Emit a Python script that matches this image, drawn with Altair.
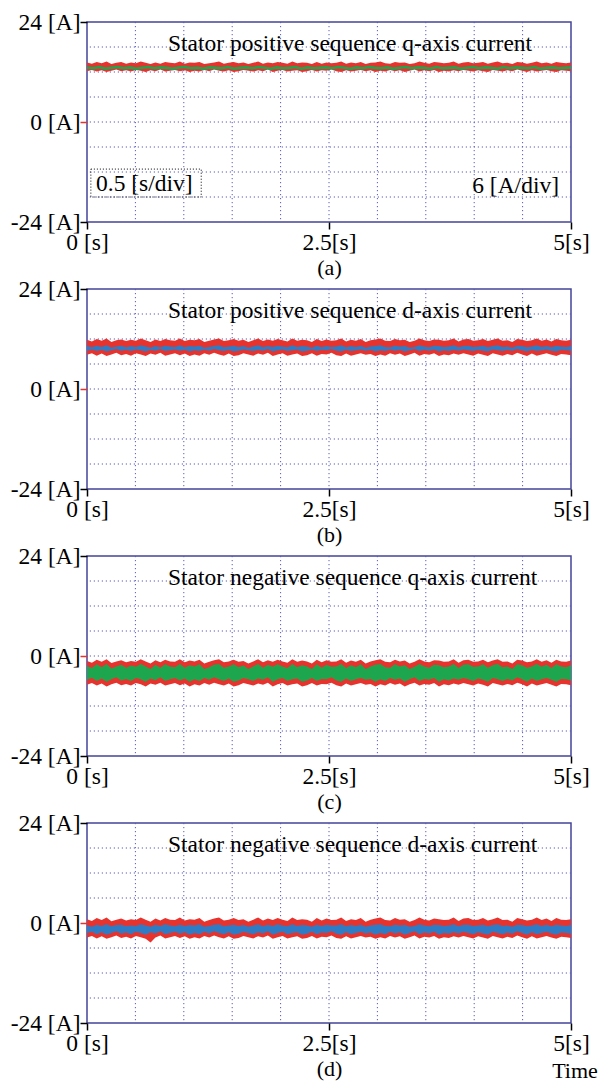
import altair as alt
import pandas as pd
import numpy as np

FONT = "Liberation Serif"
FS = 23.5
RED = "#e6332e"
GRID = "#5a5ab8"
BORDER = "#44449a"

captions = ["(a)", "(b)", "(c)", "(d)"]
titles = [
    "Stator positive sequence q-axis current",
    "Stator positive sequence d-axis current",
    "Stator negative sequence q-axis current",
    "Stator negative sequence d-axis current",
]
inner_colors = ["#1ea64e", "#2f7cc4", "#1ea64e", "#2f7cc4"]
y_ticks = [-24, 0, 24]
x_ticks = [0, 2.5, 5]
x_grid = [0.5, 1.0, 1.5, 2.0, 2.5, 3.0, 3.5, 4.0, 4.5]
y_grid = [-18, -12, -6, 0, 6, 12, 18]
div_labels = ["0.5 [s/div]", "6 [A/div]"]
box_t = [0.04, 1.18]
box_v = [-11.3, -18.0]

# ---- red (noisy) envelopes: upper / lower edge of the band ----
red_a_hi = [14.3,14.0,14.4,14.1,14.5,13.9,14.2,14.4,14.0,14.3,14.1,14.5,14.2,13.9,14.3,14.0,14.4,14.2,14.1,14.5,
            14.0,14.3,14.2,14.4,13.9,14.1,14.3,14.5,14.0,14.2,14.4,14.1,14.3,13.9,14.2,14.5,14.0,14.3,14.1,14.4,
            14.2,14.0,14.5,14.1,14.3,14.2,13.9,14.4,14.0,14.3,14.1,14.2,14.5,14.0,14.3,14.1,14.4,13.9,14.2,14.3,
            14.5,14.1,14.0,14.4,14.2,14.3,13.9,14.1,14.5,14.2,14.0,14.4,14.3,14.1,14.2,14.5,14.0,14.3,14.4,14.1,
            14.2,14.4,14.0,14.3,14.5,14.1,14.2,13.9,14.4,14.3,14.0,14.2,14.5,14.1,14.3,14.0,14.4,14.2,14.1,14.3]
red_a_lo = [12.2,12.5,12.1,12.4,12.0,12.3,12.6,12.2,12.4,12.1,12.5,12.3,12.0,12.4,12.2,12.6,12.1,12.3,12.5,12.2,
            12.4,12.0,12.3,12.1,12.5,12.2,12.6,12.3,12.1,12.4,12.0,12.2,12.5,12.3,12.1,12.4,12.2,12.6,12.0,12.3,
            12.5,12.1,12.3,12.4,12.0,12.2,12.5,12.1,12.4,12.3,12.6,12.2,12.0,12.4,12.1,12.3,12.5,12.2,12.4,12.0,
            12.3,12.1,12.5,12.2,12.4,12.0,12.3,12.6,12.1,12.4,12.2,12.5,12.0,12.3,12.1,12.4,12.2,12.5,12.3,12.1,
            12.4,12.2,12.0,12.5,12.3,12.1,12.4,12.2,12.6,12.3,12.0,12.4,12.1,12.3,12.5,12.2,12.0,12.4,12.3,12.2]

red_b_hi = [11.8,11.4,12.0,11.6,12.1,11.3,11.7,11.9,11.5,11.8,11.6,12.1,11.7,11.3,11.9,11.5,12.0,11.7,11.6,12.1,
            11.5,11.8,11.7,12.0,11.3,11.6,11.9,12.1,11.5,11.7,12.0,11.6,11.8,11.3,11.7,12.1,11.5,11.9,11.6,12.0,
            11.7,11.4,12.1,11.6,11.8,11.7,11.3,12.0,11.5,11.9,11.6,11.7,12.1,11.4,11.8,11.6,12.0,11.3,11.7,11.9,
            12.1,11.6,11.5,12.0,11.7,11.8,11.3,11.6,12.1,11.7,11.5,11.9,11.8,11.6,11.7,12.1,11.4,11.9,12.0,11.6,
            11.7,12.0,11.5,11.8,12.1,11.6,11.7,11.3,12.0,11.8,11.5,11.7,12.1,11.6,11.9,11.4,12.0,11.7,11.6,11.8]
red_b_lo = [8.2,8.6,8.0,8.5,7.9,8.3,8.7,8.1,8.4,8.0,8.6,8.3,7.9,8.5,8.2,8.7,8.0,8.3,8.6,8.1,
            8.5,7.9,8.3,8.0,8.6,8.2,8.7,8.3,8.0,8.5,7.9,8.1,8.6,8.3,8.0,8.5,8.2,8.7,7.9,8.3,
            8.6,8.0,8.3,8.5,7.9,8.1,8.6,8.0,8.4,8.3,8.7,8.1,7.9,8.5,8.0,8.3,8.6,8.2,8.4,7.9,
            8.3,8.0,8.6,8.2,8.5,7.9,8.3,8.7,8.0,8.4,8.2,8.6,7.9,8.3,8.1,8.5,8.2,8.6,8.3,8.0,
            8.5,8.2,7.9,8.6,8.3,8.0,8.4,8.1,8.7,8.3,7.9,8.5,8.0,8.3,8.6,8.2,7.9,8.4,8.3,8.1]

red_c_hi = [-1.2,-1.6,-0.9,-1.4,-0.8,-1.7,-1.3,-1.0,-1.5,-1.2,-1.4,-0.8,-1.3,-1.8,-1.0,-1.5,-0.9,-1.3,-1.4,-0.8,
            -1.5,-1.1,-1.3,-0.9,-1.8,-1.4,-1.0,-0.8,-1.5,-1.3,-0.9,-1.4,-1.2,-1.8,-1.3,-0.8,-1.5,-1.0,-1.4,-0.9,
            -1.3,-1.6,-0.8,-1.4,-1.1,-1.3,-1.8,-0.9,-1.5,-1.0,-1.4,-1.3,-0.8,-1.6,-1.1,-1.4,-0.9,-1.8,-1.3,-1.0,
            -0.8,-1.4,-1.5,-0.9,-1.3,-1.1,-1.8,-1.4,-0.8,-1.3,-1.5,-1.0,-1.1,-1.4,-1.3,-0.8,-1.6,-1.0,-0.9,-1.4,
            -1.3,-0.9,-1.5,-1.1,-0.8,-1.4,-1.3,-1.8,-0.9,-1.1,-1.5,-1.3,-0.8,-1.4,-1.0,-1.6,-0.9,-1.3,-1.4,-1.1]
red_c_lo = [-6.9,-6.5,-7.1,-6.6,-7.3,-6.8,-6.4,-7.0,-6.7,-7.1,-6.5,-6.8,-7.3,-6.6,-6.9,-6.4,-7.1,-6.8,-6.5,-7.0,
            -6.6,-7.3,-6.8,-7.1,-6.5,-6.9,-6.4,-6.8,-7.1,-6.6,-7.3,-7.0,-6.5,-6.8,-7.1,-6.6,-6.9,-6.4,-7.3,-6.8,
            -6.5,-7.1,-6.8,-6.6,-7.3,-7.0,-6.5,-7.1,-6.7,-6.8,-6.4,-7.0,-7.3,-6.6,-7.1,-6.8,-6.5,-6.9,-6.7,-7.3,
            -6.8,-7.1,-6.5,-6.9,-6.6,-7.3,-6.8,-6.4,-7.1,-6.7,-6.9,-6.5,-7.3,-6.8,-7.0,-6.6,-6.9,-6.5,-6.8,-7.1,
            -6.6,-6.9,-7.3,-6.5,-6.8,-7.1,-6.7,-7.0,-6.4,-6.8,-7.3,-6.6,-7.1,-6.8,-6.5,-6.9,-7.3,-6.7,-6.8,-7.0]

red_d_hi = [0.9,0.5,1.2,0.7,1.3,0.4,0.8,1.1,0.6,0.9,0.7,1.3,0.8,0.3,1.1,0.6,1.2,0.8,0.7,1.3,
            0.6,0.9,0.8,1.2,0.3,0.7,1.1,1.3,0.6,0.8,1.2,0.7,0.9,0.3,0.8,1.3,0.6,1.1,0.7,1.2,
            0.8,0.5,1.3,0.7,0.9,0.8,0.3,1.2,0.6,1.1,0.7,0.8,1.3,0.5,0.9,0.7,1.2,0.3,0.8,1.1,
            1.3,0.7,0.6,1.2,0.8,0.9,0.3,0.7,1.3,0.8,0.6,1.1,0.9,0.7,0.8,1.3,0.5,1.1,1.2,0.7,
            0.8,1.2,0.6,0.9,1.3,0.7,0.8,0.3,1.2,0.9,0.6,0.8,1.3,0.7,1.1,0.5,1.2,0.8,0.7,0.9]
red_d_lo = [-3.5,-3.1,-3.7,-3.2,-3.8,-3.4,-3.0,-3.6,-3.3,-3.7,-3.1,-3.4,-3.8,-4.7,-3.5,-3.0,-3.7,-3.4,-3.1,-3.6,
            -3.2,-3.8,-3.4,-3.7,-3.1,-3.5,-3.0,-3.4,-3.7,-3.2,-3.8,-3.6,-3.1,-3.4,-3.7,-3.2,-3.5,-3.0,-3.8,-3.4,
            -3.1,-3.7,-3.4,-3.2,-3.8,-3.6,-3.1,-3.7,-3.3,-3.4,-3.0,-3.6,-3.8,-3.2,-3.7,-3.4,-3.1,-3.5,-3.3,-3.8,
            -3.4,-3.7,-3.1,-3.5,-3.2,-3.8,-3.4,-3.0,-3.7,-3.3,-3.5,-3.1,-3.8,-3.4,-3.6,-3.2,-3.5,-3.1,-3.4,-3.7,
            -3.2,-3.5,-3.8,-3.1,-3.4,-3.7,-3.3,-3.6,-3.0,-3.4,-3.8,-3.2,-3.7,-3.4,-3.1,-3.5,-3.8,-3.3,-3.4,-3.6]

# ---- inner (filtered) traces ----
inner_a = [13.1,12.9,13.2,12.8,13.0,13.2,12.9,13.1,12.8,13.0,13.2,12.9,13.1,13.0,12.8,13.1,13.2,12.9,13.0,12.8,
           13.1,13.0,12.9,13.2,12.8,13.0,13.1,12.9,13.2,13.0,12.8,13.1,12.9,13.0,13.2,12.8,13.1,12.9,13.0,13.1,
           12.9,13.2,13.0,12.8,13.1,12.9,13.2,13.0,12.9,13.1,12.8,13.0,13.2,12.9,13.1,13.0,12.8,13.2,12.9,13.0,
           13.1,12.8,13.0,13.2,12.9,13.1,13.0,12.8,13.2,12.9,13.1,13.0,12.9,13.2,12.8,13.0,13.1,12.9,13.0,13.1]

inner_b_hi = [10.3,10.0,10.4,10.1,10.5,9.9,10.2,10.4,10.0,10.3,10.1,10.5,10.2,9.9,10.3,10.0,10.4,10.2,10.1,10.5,
              10.0,10.3,10.2,10.4,9.9,10.1,10.3,10.5,10.0,10.2,10.4,10.1,10.3,9.9,10.2,10.5,10.0,10.3,10.1,10.4,
              10.2,10.0,10.5,10.1,10.3,10.2,9.9,10.4,10.0,10.3,10.1,10.2,10.5,10.0,10.3,10.1,10.4,9.9,10.2,10.3,
              10.5,10.1,10.0,10.4,10.2,10.3,9.9,10.1,10.5,10.2,10.0,10.4,10.3,10.1,10.2,10.5,10.0,10.3,10.4,10.1,
              10.2,10.4,10.0,10.3,10.5,10.1,10.2,9.9,10.4,10.3,10.0,10.2,10.5,10.1,10.3,10.0,10.4,10.2,10.1,10.3]
inner_b_lo = [9.2,9.5,9.1,9.4,9.0,9.3,9.6,9.2,9.4,9.1,9.5,9.3,9.0,9.4,9.2,9.6,9.1,9.3,9.5,9.2,
              9.4,9.0,9.3,9.1,9.5,9.2,9.6,9.3,9.1,9.4,9.0,9.2,9.5,9.3,9.1,9.4,9.2,9.6,9.0,9.3,
              9.5,9.1,9.3,9.4,9.0,9.2,9.5,9.1,9.4,9.3,9.6,9.2,9.0,9.4,9.1,9.3,9.5,9.2,9.4,9.0,
              9.3,9.1,9.5,9.2,9.4,9.0,9.3,9.6,9.1,9.4,9.2,9.5,9.0,9.3,9.1,9.4,9.2,9.5,9.3,9.1,
              9.4,9.2,9.0,9.5,9.3,9.1,9.4,9.2,9.6,9.3,9.0,9.4,9.1,9.3,9.5,9.2,9.0,9.4,9.3,9.2]

inner_c_hi = [-2.4,-2.9,-2.0,-2.7,-1.9,-3.0,-2.5,-2.1,-2.8,-2.3,-2.6,-1.9,-2.5,-3.1,-2.1,-2.8,-2.0,-2.5,-2.7,-1.9,
              -2.8,-2.2,-2.5,-2.0,-3.1,-2.7,-2.1,-1.9,-2.8,-2.5,-2.0,-2.7,-2.3,-3.1,-2.5,-1.9,-2.8,-2.1,-2.6,-2.0,
              -2.5,-2.9,-1.9,-2.7,-2.2,-2.5,-3.1,-2.0,-2.8,-2.1,-2.6,-2.5,-1.9,-2.9,-2.2,-2.7,-2.0,-3.1,-2.5,-2.1,
              -1.9,-2.7,-2.8,-2.0,-2.5,-2.2,-3.1,-2.6,-1.9,-2.5,-2.8,-2.1,-2.2,-2.7,-2.5,-1.9,-2.9,-2.1,-2.0,-2.6,
              -2.5,-2.0,-2.8,-2.2,-1.9,-2.7,-2.5,-3.1,-2.0,-2.2,-2.8,-2.5,-1.9,-2.6,-2.1,-2.9,-2.0,-2.5,-2.7,-2.2]
inner_c_lo = [-5.7,-5.2,-6.0,-5.4,-6.2,-5.6,-5.1,-5.9,-5.5,-6.0,-5.3,-5.6,-6.2,-5.4,-5.8,-5.1,-6.0,-5.6,-5.3,-5.9,
              -5.4,-6.2,-5.6,-6.0,-5.3,-5.7,-5.1,-5.6,-6.0,-5.4,-6.2,-5.9,-5.3,-5.6,-6.0,-5.4,-5.7,-5.1,-6.2,-5.6,
              -5.3,-6.0,-5.6,-5.4,-6.2,-5.9,-5.3,-6.0,-5.5,-5.6,-5.1,-5.9,-6.2,-5.4,-6.0,-5.6,-5.3,-5.7,-5.5,-6.2,
              -5.6,-6.0,-5.3,-5.7,-5.4,-6.2,-5.6,-5.1,-6.0,-5.5,-5.7,-5.3,-6.2,-5.6,-5.9,-5.4,-5.7,-5.3,-5.6,-6.0,
              -5.4,-5.7,-6.2,-5.3,-5.6,-6.0,-5.5,-5.9,-5.1,-5.6,-6.2,-5.4,-6.0,-5.6,-5.3,-5.7,-6.2,-5.5,-5.6,-5.9]

inner_d_hi = [-0.6,-0.9,-0.4,-0.7,-0.3,-0.8,-0.5,-0.4,-0.8,-0.6,-0.7,-0.3,-0.6,-0.9,-0.4,-0.7,-0.3,-0.6,-0.8,-0.4,
              -0.7,-0.5,-0.6,-0.3,-0.9,-0.7,-0.4,-0.3,-0.8,-0.6,-0.4,-0.7,-0.5,-0.9,-0.6,-0.3,-0.8,-0.4,-0.7,-0.3,
              -0.6,-0.8,-0.3,-0.7,-0.5,-0.6,-0.9,-0.4,-0.7,-0.4,-0.6,-0.6,-0.3,-0.8,-0.5,-0.7,-0.4,-0.9,-0.6,-0.4,
              -0.3,-0.7,-0.8,-0.4,-0.6,-0.5,-0.9,-0.7,-0.3,-0.6,-0.8,-0.4,-0.5,-0.7,-0.6,-0.3,-0.8,-0.4,-0.4,-0.7,
              -0.6,-0.4,-0.8,-0.5,-0.3,-0.7,-0.6,-0.9,-0.4,-0.5,-0.8,-0.6,-0.3,-0.7,-0.4,-0.8,-0.4,-0.6,-0.7,-0.5]
inner_d_lo = [-2.4,-2.1,-2.7,-2.2,-2.8,-2.4,-2.0,-2.6,-2.3,-2.7,-2.1,-2.4,-2.8,-2.2,-2.5,-2.0,-2.7,-2.4,-2.1,-2.6,
              -2.2,-2.8,-2.4,-2.7,-2.1,-2.5,-2.0,-2.4,-2.7,-2.2,-2.8,-2.6,-2.1,-2.4,-2.7,-2.2,-2.5,-2.0,-2.8,-2.4,
              -2.1,-2.7,-2.4,-2.2,-2.8,-2.6,-2.1,-2.7,-2.3,-2.4,-2.0,-2.6,-2.8,-2.2,-2.7,-2.4,-2.1,-2.5,-2.3,-2.8,
              -2.4,-2.7,-2.1,-2.5,-2.2,-2.8,-2.4,-2.0,-2.7,-2.3,-2.5,-2.1,-2.8,-2.4,-2.6,-2.2,-2.5,-2.1,-2.4,-2.7,
              -2.2,-2.5,-2.8,-2.1,-2.4,-2.7,-2.3,-2.6,-2.0,-2.4,-2.8,-2.2,-2.7,-2.4,-2.1,-2.5,-2.8,-2.3,-2.4,-2.6]

red_bands = [(red_a_hi, red_a_lo), (red_b_hi, red_b_lo), (red_c_hi, red_c_lo), (red_d_hi, red_d_lo)]
inner_bands = [None, (inner_b_hi, inner_b_lo), (inner_c_hi, inner_c_lo), (inner_d_hi, inner_d_lo)]

XS = alt.Scale(domain=[0, 5], nice=False, zero=False)
YS = alt.Scale(domain=[-24, 24], nice=False, zero=False)


def band_df(hi, lo):
    return pd.DataFrame({"t": np.linspace(0, 5, len(hi)), "v": hi, "v2": lo})


def panel(i):
    xaxis = alt.Axis(
        values=x_ticks,
        labelExpr="datum.value == 0 ? '0 [s]' : datum.value + '[s]'",
        title=captions[i], tickSize=7, tickWidth=1.5, tickColor="black",
        domain=False, grid=False, labelPadding=1, titlePadding=4,
        labelFontSize=FS, titleFontSize=22, labelFlush=False, labelOverlap=False,
        labelFont=FONT, titleFont=FONT, labelColor="black", titleColor="black",
        titleFontWeight="normal",
    )
    yaxis = alt.Axis(
        values=y_ticks, labelExpr="datum.value + ' [A]'", title=None,
        tickSize=7, tickWidth=1.5,
        tickColor={"condition": {"test": "datum.value === 0", "value": RED}, "value": "black"},
        domain=False, grid=False, labelPadding=0, labelFontSize=FS,
        labelFont=FONT, labelColor="black", labelFlush=False, labelOverlap=False,
    )
    X = alt.X("t:Q", scale=XS, axis=xaxis)
    Y = alt.Y("v:Q", scale=YS, axis=yaxis)

    vgrid = alt.Chart(pd.DataFrame({"t": x_grid})).mark_rule(
        color=GRID, strokeDash=[1.2, 2.8], strokeWidth=1).encode(x=X)
    hgrid = alt.Chart(pd.DataFrame({"v": y_grid})).mark_rule(
        color=GRID, strokeDash=[1.2, 2.8], strokeWidth=1).encode(y=Y)
    hi, lo = red_bands[i]
    red = alt.Chart(band_df(hi, lo)).mark_area(color=RED, clip=True).encode(
        x=X, y=Y, y2="v2:Q")
    layers = [vgrid, hgrid, red]
    if inner_bands[i] is None:
        inner = alt.Chart(pd.DataFrame({"t": np.linspace(0, 5, len(inner_a)), "v": inner_a})).mark_line(
            color=inner_colors[i], strokeWidth=2.6, clip=True).encode(x=X, y=Y)
    else:
        ih, il = inner_bands[i]
        inner = alt.Chart(band_df(ih, il)).mark_area(
            color=inner_colors[i], clip=True).encode(x=X, y=Y, y2="v2:Q")
    layers.append(inner)
    title = alt.Chart(pd.DataFrame({"s": [titles[i]]})).mark_text(
        align="left", baseline="alphabetic", font=FONT, fontSize=FS, color="black"
    ).encode(x=alt.value(81), y=alt.value(29), text="s:N")
    layers.append(title)
    if i == 0:
        box = alt.Chart(pd.DataFrame({"t": [box_t[0]], "t2": [box_t[1]],
                                      "v": [box_v[0]], "v2": [box_v[1]]})).mark_rect(
            fillOpacity=0, stroke="black", strokeDash=[1, 2], strokeWidth=1
        ).encode(x=X, x2="t2:Q", y=Y, y2="v2:Q")
        lab1 = alt.Chart(pd.DataFrame({"s": [div_labels[0]]})).mark_text(
            align="left", baseline="alphabetic", font=FONT, fontSize=FS, color="black"
        ).encode(x=alt.value(9), y=alt.value(169), text="s:N")
        lab2 = alt.Chart(pd.DataFrame({"s": [div_labels[1]]})).mark_text(
            align="right", baseline="alphabetic", font=FONT, fontSize=FS, color="black"
        ).encode(x=alt.value(472), y=alt.value(171), text="s:N")
        layers += [box, lab1, lab2]
    if i == 3:
        tm = alt.Chart(pd.DataFrame({"s": ["Time"]})).mark_text(
            align="center", baseline="middle", font=FONT, fontSize=22, color="black"
        ).encode(x=alt.value(488), y=alt.value(248), text="s:N")
        layers.append(tm)
    return alt.layer(*layers).properties(width=484, height=200)


chart = alt.vconcat(*[panel(i) for i in range(4)], spacing=67, bounds="flush").properties(
    padding={"left": 9, "top": 9, "right": 0, "bottom": 0},
    background="white",
).configure_view(stroke=BORDER, strokeWidth=1.5)

chart.save("out.html", embed_options={"renderer": "svg", "actions": False})
